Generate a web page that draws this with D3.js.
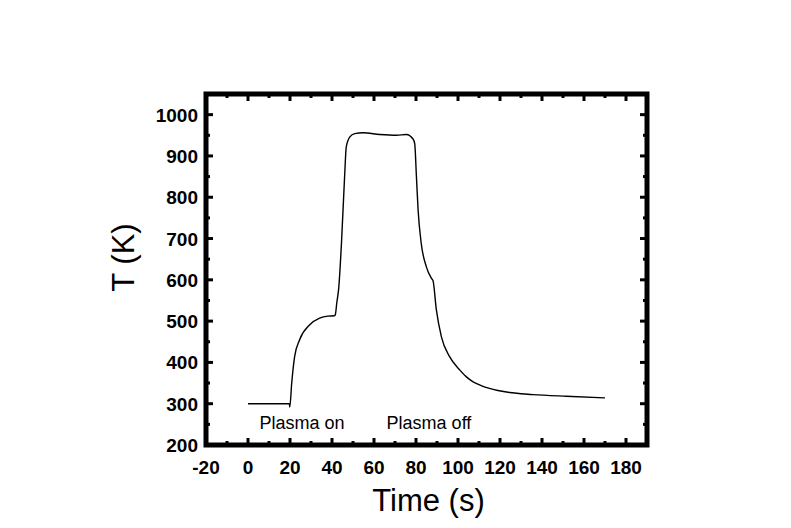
<!DOCTYPE html>
<html>
<head>
<meta charset="utf-8">
<script src="https://cdn.jsdelivr.net/npm/d3@7"></script>
<style>
  body { margin: 0; background: #fff; }
  text { font-family: "Liberation Sans", Arial, sans-serif; }
</style>
</head>
<body>
<svg id="chart" width="791" height="528"></svg>
<script>
// Data: time (s) and temperature (K)
const time = [0, 10, 19.7, 19.9, 20.8, 22.2, 24.6, 29.4, 34.1, 38, 41.2, 41.6, 42.3, 43.2, 44.5, 46, 46.8, 48.5, 50.8, 54.8, 62.7, 70.7, 75.4, 78.6, 79.4, 80.2, 81, 82.5, 84.9, 87.3, 88.1, 89.7, 92.1, 96, 100.8, 104, 107.2, 111, 115, 119, 124.6, 130, 135.7, 151.6, 170];
const temp = [300, 300, 300, 292, 349, 414, 455, 491, 507, 512, 513, 516, 545, 580, 688, 850, 922, 946, 954, 956, 952, 950, 952, 941, 929, 850, 769, 688, 632, 604, 598, 527, 462, 414, 382, 365, 353, 344, 337, 332, 327, 324, 322, 318, 314];

const xTicks = [-20, 0, 20, 40, 60, 80, 100, 120, 140, 160, 180];
const yTicks = [200, 300, 400, 500, 600, 700, 800, 900, 1000];
const notes = [
  { label: "Plasma on", t: 5.5 },
  { label: "Plasma off", t: 66 }
];

const margin = { top: 94, left: 206, right: 144, bottom: 83 };
const width = 791, height = 528;

const svg = d3.select("#chart");

const x = d3.scaleLinear().domain([-20, 190]).range([margin.left, width - margin.right]);
const y = d3.scaleLinear().domain([200, 1050]).range([height - margin.bottom, margin.top]);

// minor ticks halfway between majors
const xMinor = d3.range(-10, 190, 20);
const yMinor = d3.range(250, 1050, 100);

function drawTicks(g, vals, len, w, horiz, base, dir) {
  g.selectAll(null).data(vals).enter().append("line")
    .attr("x1", d => horiz ? x(d) : base)
    .attr("x2", d => horiz ? x(d) : base + dir * len)
    .attr("y1", d => horiz ? base : y(d))
    .attr("y2", d => horiz ? base + dir * len : y(d))
    .attr("stroke", "#000")
    .attr("stroke-width", w);
}

const ticks = svg.append("g");
const x0 = x.range()[0], x1 = x.range()[1];
const y0 = y.range()[0], y1 = y.range()[1];
// bottom / top
drawTicks(ticks, xTicks.slice(1), 7, 3, true, y0, -1);
drawTicks(ticks, xMinor, 4, 3, true, y0, -1);
drawTicks(ticks, xTicks.slice(1), 7, 3, true, y1, 1);
drawTicks(ticks, xMinor, 4, 3, true, y1, 1);
// left / right
drawTicks(ticks, yTicks.slice(1), 7, 3, false, x0, 1);
drawTicks(ticks, yMinor, 4, 3, false, x0, 1);
drawTicks(ticks, yTicks.slice(1), 7, 3, false, x1, -1);
drawTicks(ticks, yMinor, 4, 3, false, x1, -1);

// frame
svg.append("rect")
  .attr("x", x0).attr("y", y1)
  .attr("width", x1 - x0).attr("height", y0 - y1)
  .attr("fill", "none").attr("stroke", "#000").attr("stroke-width", 5);

// tick labels
svg.append("g").selectAll("text").data(xTicks).enter().append("text")
  .attr("x", d => x(d)).attr("y", y0 + 29)
  .attr("text-anchor", "middle")
  .attr("font-size", 19).attr("font-weight", "bold")
  .text(d => d);

svg.append("g").selectAll("text").data(yTicks).enter().append("text")
  .attr("x", x0 - 8).attr("y", d => y(d) + 7)
  .attr("text-anchor", "end")
  .attr("font-size", 19).attr("font-weight", "bold")
  .text(d => d);

// axis titles
svg.append("text")
  .attr("x", (x0 + x1) / 2 + 2).attr("y", 511)
  .attr("text-anchor", "middle").attr("font-size", 31)
  .text("Time (s)");

svg.append("text")
  .attr("transform", "translate(134," + ((y0 + y1) / 2 - 12) + ") rotate(-90)")
  .attr("text-anchor", "middle").attr("font-size", 31)
  .text("T (K)");

// curve
const line = d3.line()
  .x(d => x(d[0]))
  .y(d => y(d[1]))
  .curve(d3.curveMonotoneX);

svg.append("path")
  .datum(time.map((t, i) => [t, temp[i]]))
  .attr("fill", "none")
  .attr("stroke", "#000")
  .attr("stroke-width", 1.4)
  .attr("d", line);

// annotations
svg.append("g").selectAll("text").data(notes).enter().append("text")
  .attr("x", d => x(d.t)).attr("y", 429)
  .attr("font-size", 18)
  .text(d => d.label);
</script>
</body>
</html>
